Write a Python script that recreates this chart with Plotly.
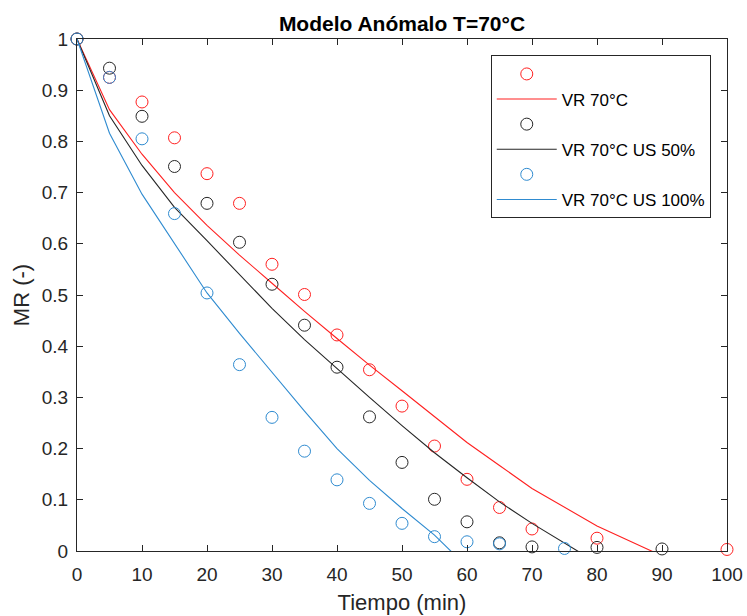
import plotly.graph_objects as go

# ---- data ----
t_red = [0, 5, 10, 15, 20, 25, 30, 35, 40, 45, 50, 55, 60, 65, 70, 80, 100]
mr_red = [1.0, 0.925, 0.877, 0.807, 0.737, 0.679, 0.560, 0.501, 0.422, 0.354,
          0.283, 0.205, 0.140, 0.085, 0.043, 0.025, 0.003]
fit_red = [1.0, 0.862, 0.775, 0.700, 0.636, 0.578, 0.523, 0.468, 0.415, 0.363,
           0.313, 0.262, 0.212, 0.167, 0.122, 0.049, -0.068]

t_blk = [0, 5, 10, 15, 20, 25, 30, 35, 40, 45, 50, 55, 60, 65, 70, 80, 90]
mr_blk = [1.0, 0.943, 0.849, 0.751, 0.679, 0.603, 0.521, 0.441, 0.359, 0.262,
          0.173, 0.101, 0.057, 0.016, 0.008, 0.007, 0.004]
fit_blk = [1.0, 0.850, 0.753, 0.671, 0.606, 0.540, 0.474, 0.413, 0.356, 0.300,
           0.245, 0.192, 0.143, 0.096, 0.054, -0.024, -0.10]

t_blu = [0, 5, 10, 15, 20, 25, 30, 35, 40, 45, 50, 55, 60, 65, 75]
mr_blu = [1.0, 0.925, 0.805, 0.659, 0.504, 0.364, 0.261, 0.195, 0.139, 0.093,
          0.054, 0.028, 0.018, 0.014, 0.005]
fit_blu = [1.0, 0.816, 0.697, 0.600, 0.504, 0.425, 0.348, 0.273, 0.200, 0.138,
           0.083, 0.031, -0.031, -0.09, -0.2]

names = ["VR 70°C", "VR 70°C US 50%", "VR 70°C US 100%"]
RED = "#FF2020"
BLK = "#262626"
BLU = "#2F8BD0"

FONT = "Liberation Sans, Arial, sans-serif"

fig = go.Figure()
series = [(t_red, mr_red, fit_red, RED, names[0]),
          (t_blk, mr_blk, fit_blk, BLK, names[1]),
          (t_blu, mr_blu, fit_blu, BLU, names[2])]
for t, mr, fit, col, nm in series:
    fig.add_trace(go.Scatter(
        x=t, y=mr, mode="markers", name=" ",
        marker=dict(symbol="circle-open", size=12, color=col, line=dict(width=1, color=col)),
        cliponaxis=False))
    fig.add_trace(go.Scatter(
        x=t, y=fit, mode="lines", name=nm,
        line=dict(color=col, width=1.1)))

axis_common = dict(
    showline=True, linecolor="#262626", linewidth=1, mirror="ticks",
    ticks="inside", ticklen=6, tickcolor="#262626", tickwidth=1,
    showgrid=False, zeroline=False, automargin=False,
    tickfont=dict(family=FONT, size=19, color="#262626"),
)

fig.update_layout(
    width=747, height=616,
    margin=dict(l=77, r=20, t=39, b=65),
    paper_bgcolor="white", plot_bgcolor="white",
    title=dict(text="<b>Modelo Anómalo T=70°C</b>", x=0.5, xref="paper",
               y=1 - 24 / 616, yanchor="middle",
               font=dict(family=FONT, size=21, color="black")),
    xaxis=dict(range=[0, 100], dtick=10, tick0=0, ticklabelstandoff=6,
               title=dict(text="Tiempo (min)", font=dict(family=FONT, size=22, color="#262626"),
                          standoff=10),
               **axis_common),
    yaxis=dict(range=[0, 1], dtick=0.1, tick0=0, ticklabelstandoff=4,
               title=dict(text="MR (-)", font=dict(family=FONT, size=22, color="#262626"),
                          standoff=6),
               **axis_common),
    showlegend=True,
    legend=dict(x=0.975, xanchor="right", y=0.968, yanchor="top",
                bordercolor="#262626", borderwidth=1, bgcolor="white",
                font=dict(family=FONT, size=17, color="black"),
                tracegroupgap=0, itemwidth=60),
)

fig.write_html("out.html")
